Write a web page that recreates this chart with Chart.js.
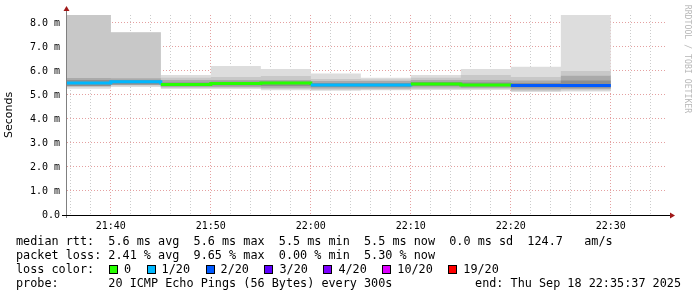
<!DOCTYPE html>
<html>
<head>
<meta charset="utf-8">
<script src="https://cdn.jsdelivr.net/npm/chart.js@4/dist/chart.umd.min.js"></script>
<style>
html, body { margin: 0; padding: 0; background: #fff; }
#wrap { position: relative; width: 697px; height: 297px; overflow: hidden; }
#c { position: absolute; left: 0; top: 0; }
.mono { font-family: 'DejaVu Sans Mono', monospace; font-size: 11.8px; color: #000; white-space: pre; }
#legend { position: absolute; left: 16px; top: 234px; line-height: 14px; }
#lossItems { position: absolute; left: 109px; top: 262px; height: 14px; display: flex; align-items: center; line-height: 14px; }
#lossItems .item { display: flex; align-items: center; margin-right: 15.5px; }
#lossItems .box { display: inline-block; width: 7px; height: 7px; border: 1px solid #000; margin-right: 6px; }
#endText { position: absolute; right: 16px; top: 276px; line-height: 14px; }
#credit { position: absolute; left: 632px; top: 54px; width: 112px; height: 10px; line-height: 10px; text-align: center;
  font-family: 'DejaVu Sans Mono', monospace; font-size: 8.2px; color: #b8b8b8; white-space: pre;
  transform: rotate(90deg); transform-origin: center; }
</style>
</head>
<body>
<div id="wrap">
  <canvas id="c" width="697" height="297"></canvas>
  <div id="legend" class="mono">median rtt:  5.6 ms avg  5.6 ms max  5.5 ms min  5.5 ms now  0.0 ms sd  124.7   am/s
packet loss: 2.41 % avg  9.65 % max  0.00 % min  5.30 % now
loss color:
probe:       20 ICMP Echo Pings (56 Bytes) every 300s</div>
  <div id="lossItems" class="mono"></div>
  <div id="endText" class="mono">end: Thu Sep 18 22:35:37 2025</div>
  <div id="credit">RRDTOOL / TOBI OETIKER</div>
</div>
<script>
// 5 minute steps, value shown over the step that starts at segStart
const segStart  = ['21:35','21:40','21:45','21:50','21:55','22:00','22:05','22:10','22:15','22:20','22:25'];
const smokeMax  = [8.50, 7.62, 5.83, 6.21, 6.08, 5.90, 5.72, 5.83, 6.08, 6.18, 8.50];
const smokeHi   = [8.45, 7.60, 5.72, 5.75, 5.79, 5.67, 5.65, 5.72, 5.83, 5.75, 6.00];
const smokeMid  = [5.71, 5.70, 5.62, 5.62, 5.62, 5.58, 5.58, 5.62, 5.62, 5.60, 5.80];
const smokeIn   = [5.62, 5.62, 5.52, 5.55, 5.56, 5.50, 5.50, 5.54, 5.52, 5.50, 5.60];
const medianRtt = [5.50, 5.55, 5.44, 5.48, 5.50, 5.42, 5.42, 5.46, 5.42, 5.40, 5.40];
const smokeInLo = [5.38, 5.44, 5.38, 5.40, 5.38, 5.33, 5.33, 5.38, 5.35, 5.31, 5.30];
const smokeMidLo= [5.36, 5.42, 5.33, 5.33, 5.30, 5.27, 5.27, 5.31, 5.29, 5.23, 5.25];
const smokeLo   = [5.33, 5.40, 5.29, 5.29, 5.25, 5.22, 5.23, 5.25, 5.25, 5.17, 5.20];
const smokeMin  = [5.26, 5.33, 5.25, 5.25, 5.20, 5.18, 5.20, 5.21, 5.21, 5.12, 5.15];
const lostPings = [1, 1, 0, 0, 0, 1, 1, 0, 0, 2, 2];

const lossBins   = [0, 1, 2, 3, 4, 10, 19];
const lossLabels = ['0', '1/20', '2/20', '3/20', '4/20', '10/20', '19/20'];
const lossColors = ['#26ff00', '#00b8ff', '#0059ff', '#5e00ff', '#7e00ff', '#dd00ff', '#ff0000'];

const timeLabels = ['21:40', '21:50', '22:00', '22:10', '22:20', '22:30'];
const yLabels = ['0.0', '1.0 m', '2.0 m', '3.0 m', '4.0 m', '5.0 m', '6.0 m', '7.0 m', '8.0 m'];

const stepMin = 5;
const viewStart = 21 * 60 + 35 + 37 / 60;   // 21:35:37
const viewEnd = viewStart + 60;             // 22:35:37
const yMax = 8.3333;

const toMin = (s) => { const [h, m] = s.split(':').map(Number); return h * 60 + m; };
const fmtMin = (v) => String(Math.floor(v / 60)).padStart(2, '0') + ':' + String(Math.round(v % 60)).padStart(2, '0');
const lossColor = (n) => { let c = lossColors[0]; lossBins.forEach((b, k) => { if (n >= b) c = lossColors[k]; }); return c; };

// legend boxes
const li = document.getElementById('lossItems');
lossLabels.forEach((lab, k) => {
    li.innerHTML += `<span class="item"><span class="box" style="background:${lossColors[k]}"></span>${lab}</span>`;
});

// step points: each value held for one step, last one closed at the step end
function steps(vals) {
    const pts = segStart.map((t, i) => ({ x: toMin(t), y: vals[i] }));
    pts.push({ x: toMin(segStart[segStart.length - 1]) + stepMin, y: vals[vals.length - 1] });
    return pts;
}

function edge(vals, color, fill) {
    return {
        type: 'line',
        data: steps(vals),
        stepped: 'before',
        borderWidth: 0,
        pointRadius: 0,
        backgroundColor: color,
        fill: fill
    };
}

const gridRed = 'rgba(225,150,150,0.9)';
const gridGrey = 'rgba(200,200,200,0.95)';
const mono = "'DejaVu Sans Mono', monospace";

const axesPlugin = {
    id: 'rrdAxes',
    afterDraw(chart) {
        const { ctx, chartArea: a } = chart;
        ctx.save();
        ctx.strokeStyle = '#808080';
        ctx.lineWidth = 1;
        ctx.beginPath();
        ctx.moveTo(a.left - 0.5, a.top - 5);
        ctx.lineTo(a.left - 0.5, a.bottom + 3);
        ctx.stroke();
        ctx.strokeStyle = '#000';
        ctx.beginPath();
        ctx.moveTo(a.left - 5, a.bottom + 0.5);
        ctx.lineTo(a.right + 3, a.bottom + 0.5);
        ctx.stroke();
        ctx.fillStyle = '#a01818';
        ctx.beginPath();
        ctx.moveTo(a.left - 0.5, a.top - 9);
        ctx.lineTo(a.left - 3.5, a.top - 4);
        ctx.lineTo(a.left + 2.5, a.top - 4);
        ctx.fill();
        ctx.beginPath();
        ctx.moveTo(a.right + 8, a.bottom + 0.5);
        ctx.lineTo(a.right + 3, a.bottom - 2.5);
        ctx.lineTo(a.right + 3, a.bottom + 3.5);
        ctx.fill();
        ctx.restore();
    }
};

new Chart(document.getElementById('c'), {
    type: 'line',
    data: {
        datasets: [
            {
                data: steps(medianRtt),
                stepped: 'before',
                borderWidth: 3,
                pointRadius: 0,
                borderCapStyle: 'butt',
                borderColor: lossColor(lostPings[0]),
                segment: { borderColor: (c) => lossColor(lostPings[Math.min(c.p0DataIndex, lostPings.length - 1)]) },
                fill: false
            },
            edge(smokeIn, '#8e8e8e', '+1'),
            edge(smokeInLo, 'transparent', false),
            edge(smokeMid, '#aaaaaa', '+1'),
            edge(smokeMidLo, 'transparent', false),
            edge(smokeHi, '#c8c8c8', '+1'),
            edge(smokeLo, 'transparent', false),
            edge(smokeMax, '#dddddd', '+1'),
            edge(smokeMin, 'transparent', false)
        ]
    },
    options: {
        responsive: false,
        devicePixelRatio: 1,
        animation: false,
        layout: { padding: { top: 15, right: 30, left: 0, bottom: 0 } },
        plugins: { legend: { display: false }, tooltip: { enabled: false } },
        scales: {
            x: {
                type: 'linear',
                min: viewStart,
                max: viewEnd,
                offset: false,
                z: 1,
                afterFit: (s) => { s.height = 82; },
                afterBuildTicks: (s) => {
                    const t = [];
                    for (let v = Math.ceil(viewStart / 2) * 2; v <= viewEnd; v += 2) t.push({ value: v });
                    s.ticks = t;
                },
                grid: {
                    drawTicks: false,
                    lineWidth: 1,
                    color: (c) => (c.tick && c.tick.value % 10 === 0) ? gridRed : gridGrey
                },
                border: { display: false, dash: [1, 2] },
                ticks: {
                    autoSkip: false,
                    maxRotation: 0,
                    padding: 5,
                    color: '#000',
                    font: { family: mono, size: 10 },
                    callback: (v) => timeLabels.includes(fmtMin(v)) ? fmtMin(v) : ''
                }
            },
            y: {
                type: 'linear',
                min: 0,
                max: yMax,
                z: 1,
                afterFit: (s) => { s.width = 67; },
                afterBuildTicks: (s) => {
                    const t = [];
                    for (let k = 0; k <= (yLabels.length - 1) * 2; k++) t.push({ value: k / 2 });
                    s.ticks = t;
                },
                grid: {
                    drawTicks: false,
                    lineWidth: 1,
                    color: (c) => (c.tick && Number.isInteger(c.tick.value)) ? gridRed : gridGrey
                },
                border: { display: false, dash: [1, 2] },
                ticks: {
                    padding: 7,
                    color: '#000',
                    font: { family: mono, size: 10 },
                    callback: (v) => Number.isInteger(v) ? yLabels[v] : ''
                },
                title: {
                    display: true,
                    text: 'Seconds',
                    color: '#000',
                    font: { family: "'DejaVu Sans', sans-serif", size: 11 },
                    padding: { top: 3, bottom: 0 }
                }
            }
        }
    },
    plugins: [axesPlugin]
});
</script>
</body>
</html>
